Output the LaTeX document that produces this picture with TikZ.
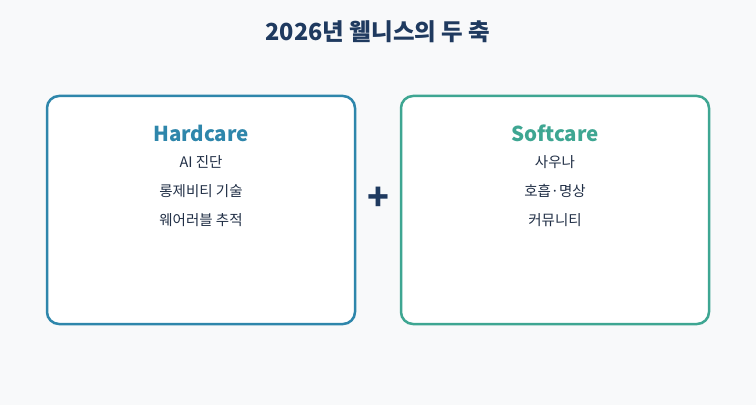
\documentclass[tikz,border=0pt]{standalone}
\usepackage{fontspec}
\setmainfont{Noto Sans CJK KR}
\usetikzlibrary{positioning}
\definecolor{BgClr}{RGB}{248,249,250}
\definecolor{TitleClr}{RGB}{31,58,95}
\definecolor{TextClr}{RGB}{33,47,70}
\definecolor{HardClr}{RGB}{46,134,171}
\definecolor{SoftClr}{RGB}{62,166,146}

\begin{document}
\begin{tikzpicture}[x=1pt,y=1pt,
  card/.style={draw,line width=2.5pt,rounded corners=12pt,fill=white,
    minimum width=308pt,minimum height=228pt,inner sep=0pt},
  head/.style={font=\fontsize{20.5}{24}\selectfont\bfseries},
  item/.style={font=\fontsize{14.5}{17}\selectfont,text=TextClr,inner sep=0pt}]

\fill[BgClr] (0,0) rectangle (756,405);
\useasboundingbox (0,0) rectangle (756,405);

\node[font=\fontsize{23.5}{28}\selectfont\bfseries,text=TitleClr] (title) at (378,373) {2026년 웰니스의 두 축};

\node[card,draw=HardClr] (hard) at (201,195) {};
\node[card,draw=SoftClr] (soft) at (555,195) {};

\node[head,text=HardClr] (hardhead) at (201,272) {Hardcare};
\node[item] (hardA) at (201,243) {AI 진단};
\node[item] (hardB) at (201,214) {롱제비티 기술};
\node[item] (hardC) at (201,185) {웨어러블 추적};

\node[head,text=SoftClr] (softhead) at (555,272) {Softcare};
\node[item] (softA) at (555,243) {사우나};
\node[item] (softB) at (555,214) {호흡·명상};
\node[item] (softC) at (555,185) {커뮤니티};

\node[font=\fontsize{36}{36}\selectfont\bfseries,text=TitleClr] (plus) at (378,206) {+};

\end{tikzpicture}
\end{document}
